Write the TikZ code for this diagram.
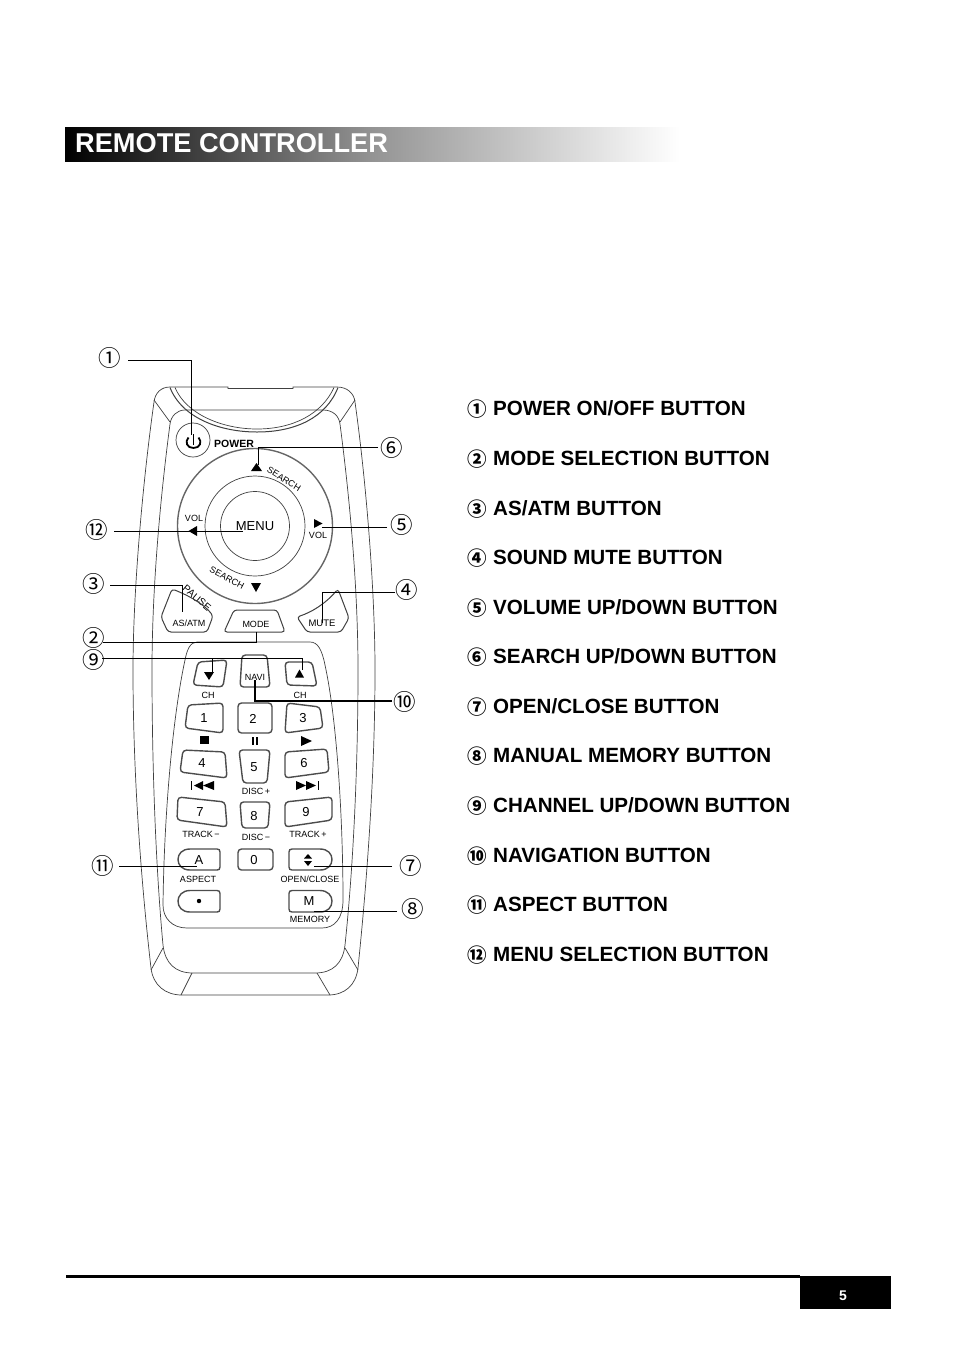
\documentclass[tikz,border=0pt]{standalone}
\usepackage{fontspec}
\setmainfont{Liberation Sans}
\newfontfamily\symf{Noto Sans CJK SC}
\tikzset{
  small/.style={font=\fontsize{9}{9}\selectfont,inner sep=0pt},
  keynum/.style={font=\fontsize{13}{13}\selectfont,inner sep=0pt},
  callout/.style={font=\symf\fontsize{22.5}{22.5}\selectfont,inner sep=0pt},
  lead/.style={line width=1pt,black},
  shell/.style={line width=0.7pt,black!75},
  keybox/.style={line width=1.4pt,black!70,rounded corners=3.5pt},
  listno/.style={font=\symf\bfseries\fontsize{19.5}{19.5}\selectfont,inner sep=0pt},
  listtext/.style={font=\bfseries\fontsize{20.6}{20.6}\selectfont,inner sep=0pt,anchor=base west},
  tri/.style={fill=black,draw=none},
}
\begin{document}
\begin{tikzpicture}[x=1pt,y=-1pt]
\useasboundingbox (0,0) rectangle (954,1355);
% heading band
\shade[left color=black,right color=white,middle color=black!42] (65,127) rectangle (680,161);
\node[anchor=base west,inner sep=0pt,text=white,font=\bfseries\fontsize{27.2}{27.2}\selectfont] (title) at (75,152.5) {REMOTE CONTROLLER};
% footer
\fill[black] (66,1275) rectangle (800,1277.5);
\fill[black] (800,1276) rectangle (891,1309);
\node[text=white,font=\bfseries\fontsize{14}{14}\selectfont,inner sep=0pt] (pg) at (843,1296) {5};
% remote shell
\draw[shell] (170,387) -- (228,387) -- (228,388.5) -- (293,388.5) -- (293,387) -- (337,387)
  .. controls (347,387) and (354,393) .. (355,402)
  .. controls (366,480) and (375,590) .. (375,670)
  .. controls (375,780) and (366,890) .. (358,968)
  .. controls (356,985) and (345,995) .. (328,995)
  -- (182,995)
  .. controls (165,995) and (153,985) .. (151,968)
  .. controls (142,890) and (133,780) .. (133,670)
  .. controls (133,590) and (143,480) .. (154,402)
  .. controls (155,393) and (161,387) .. (170,387) -- cycle;
\draw[shell] (185,410) -- (323,410)
  .. controls (333,410) and (339,416) .. (340,424)
  .. controls (350,500) and (358,590) .. (358,670)
  .. controls (358,770) and (353,870) .. (345,945)
  .. controls (343,963) and (333,973) .. (315,973)
  -- (193,973)
  .. controls (175,973) and (165,963) .. (163,945)
  .. controls (156,870) and (152,770) .. (152,670)
  .. controls (152,590) and (160,500) .. (170,424)
  .. controls (171,416) and (177,410) .. (185,410) -- cycle;
\draw[shell] (154,400) -- (170,422);
\draw[shell] (355,400) -- (340,422);
\draw[shell] (163,948) -- (151,970);
\draw[shell] (345,948) -- (358,970);
\draw[shell] (192,973) -- (181,995);
\draw[shell] (317,973) -- (330,995);
% recess
\draw[shell,line width=1pt] (170,387.5) .. controls (182,418) and (220,432) .. (257,432) .. controls (295,432) and (326,418) .. (338,387.5);
\draw[shell] (175,387.5) .. controls (186,414) and (222,429) .. (257,429) .. controls (293,429) and (322,414) .. (334,387.5);
% power
\draw[shell] (193,440) circle (17);
\draw[line width=1.8pt] (188.5,437.5) .. controls (184.5,442) and (187,448) .. (193.5,448) .. controls (200,448) and (202.5,442) .. (198.5,437.5);
\draw[line width=1.8pt] (193.5,434) -- (193.5,445);
\node[small,font=\bfseries\fontsize{10.5}{10.5}\selectfont] (powerlabel) at (234,444) {POWER};
% dial
\draw[line width=1.4pt,black!60] (255,526) circle (77.5);
\draw[shell] (255,526) circle (50);
\draw[shell] (255,526) circle (34.5);
\node[inner sep=0pt,font=\fontsize{13}{13}\selectfont] (menu) at (255,526) {MENU};
\fill[tri] (256.5,463) -- (251,471) -- (262,471) -- cycle;
\fill[tri] (256,592) -- (251,583) -- (261,583) -- cycle;
\fill[tri] (188.5,531) -- (197,526) -- (197,536) -- cycle;
\fill[tri] (322.5,523.5) -- (314,519) -- (314,528) -- cycle;
\node[small] (volL) at (194,518) {VOL};
\node[small] (volR) at (318,535) {VOL};
\node[small,rotate=-32] (sU) at (284,479) {SEARCH};
\node[small,rotate=-28] (sD) at (227,578) {SEARCH};
\node[small,font=\fontsize{10}{10}\selectfont,rotate=-40] (pause) at (197,598) {PAUSE};
% top buttons
\draw[shell,line width=1pt,rounded corners=3pt] (172,589) .. controls (190,596) and (205,605) .. (213,616) -- (207,632) -- (168,632) -- (161,617) -- cycle;
\draw[shell,line width=1pt,rounded corners=3pt] (234,610) -- (277,610) -- (285,632) -- (224,632) -- cycle;
\draw[shell,line width=1pt,rounded corners=3pt] (297,617) .. controls (312,612) and (325,604) .. (338,589) -- (349,618) -- (341,632) -- (307,632) -- cycle;
\node[small] (asatm) at (189,623) {AS/ATM};
\node[small] (mode) at (256,624) {MODE};
\node[small,font=\fontsize{9.5}{9.5}\selectfont] (mute) at (322,623) {MUTE};
% keypad panel
\draw[shell] (197,642) -- (310,642) .. controls (318,642) and (322,650) .. (325,665)
  .. controls (337,720) and (343,820) .. (343,900)
  .. controls (343,918) and (335,928) .. (322,928) -- (187,928)
  .. controls (172,928) and (163,918) .. (163,905)
  .. controls (164,820) and (172,720) .. (185,660)
  .. controls (187,650) and (190,642) .. (197,642) -- cycle;
% keys
\draw[keybox] (198,662) -- (227,660) -- (223,687) -- (193,685) -- cycle;
\draw[keybox] (242,655) -- (267,655) -- (270,687) -- (240,687) -- cycle;
\draw[keybox] (285,662) -- (312,662) -- (317,686) -- (287,685) -- cycle;
\draw[keybox] (188,705) -- (223,703) -- (223,733) -- (185,728) -- cycle;
\draw[keybox] (238,703) -- (272,703) -- (272,733) -- (238,733) -- cycle;
\draw[keybox] (287,703) -- (320,707) -- (323,728) -- (285,733) -- cycle;
\draw[keybox] (183,750) -- (225,752) -- (227,778) -- (180,772) -- cycle;
\draw[keybox] (239,750) -- (270,750) -- (267,783) -- (243,783) -- cycle;
\draw[keybox] (285,752) -- (327,749) -- (329,772) -- (285,778) -- cycle;
\draw[keybox] (178,797) -- (225,802) -- (227,827) -- (177,820) -- cycle;
\draw[keybox] (240,802) -- (270,802) -- (268,828) -- (242,828) -- cycle;
\draw[keybox] (285,802) -- (332,797) -- (332,820) -- (285,827) -- cycle;
\draw[keybox] (238,849) -- (273,849) -- (273,870) -- (238,870) -- cycle;
\draw[keybox,rounded corners=0pt] (190,849) -- (217,849) .. controls (219,849) and (220,850) .. (220,852) -- (220,867) .. controls (220,869) and (219,870) .. (217,870) -- (190,870) .. controls (182,870) and (178,865) .. (178,859.5) .. controls (178,854) and (182,849) .. (190,849) -- cycle;
\draw[keybox,rounded corners=0pt] (190,890.5) -- (217,890.5) .. controls (219,890.5) and (220,891.5) .. (220,893.5) -- (220,909) .. controls (220,911) and (219,912) .. (217,912) -- (190,912) .. controls (182,912) and (178,907) .. (178,901) .. controls (178,896) and (182,890.5) .. (190,890.5) -- cycle;
\draw[keybox,rounded corners=0pt] (320,849) -- (292,849) .. controls (290,849) and (289,850) .. (289,852) -- (289,867) .. controls (289,869) and (290,870) .. (292,870) -- (320,870) .. controls (328,870) and (332,865) .. (332,859.5) .. controls (332,854) and (328,849) .. (320,849) -- cycle;
\draw[keybox,rounded corners=0pt] (320,890.5) -- (292,890.5) .. controls (290,890.5) and (289,891.5) .. (289,893.5) -- (289,909) .. controls (289,911) and (290,912) .. (292,912) -- (320,912) .. controls (328,912) and (332,907) .. (332,901) .. controls (332,896) and (328,890.5) .. (320,890.5) -- cycle;
% key glyphs
\fill[tri] (209,680) -- (204,672) -- (214,672) -- cycle;
\fill[tri] (299.5,669.5) -- (295,677.5) -- (304,677.5) -- cycle;
\fill[tri] (200,736) rectangle (209,744);
\fill[tri] (252,737) rectangle (254,745);
\fill[tri] (256,737) rectangle (258,745);
\fill[tri] (301,736) -- (312,741) -- (301,746) -- cycle;
\fill[tri] (191,781) rectangle (192,790);
\fill[tri] (194,785.5) -- (203,781) -- (203,790) -- cycle;
\fill[tri] (203,785.5) -- (214,781) -- (214,790) -- cycle;
\fill[tri] (296,781) -- (306,785.5) -- (296,790) -- cycle;
\fill[tri] (306,781) -- (316,785.5) -- (306,790) -- cycle;
\fill[tri] (318,781) rectangle (319,790);
\fill[tri] (308,854) -- (304,858.5) -- (312,858.5) -- cycle;
\fill[tri] (308,866) -- (304,861) -- (312,861) -- cycle;
\fill[tri] (199,901) circle (2.2);
\node[small] (lch1) at (208,695) {CH};
\node[small] (lch2) at (300,695) {CH};
\node[small] (lnavi) at (255,677) {NAVI};
\node[keynum] (k1) at (204,718) {1};
\node[keynum] (k2) at (253,719) {2};
\node[keynum] (k3) at (303,718) {3};
\node[keynum] (k4) at (202,763) {4};
\node[keynum] (k5) at (254,767) {5};
\node[keynum] (k6) at (304,763) {6};
\node[keynum] (k7) at (200,812) {7};
\node[keynum] (k8) at (254,816) {8};
\node[keynum] (k9) at (306,812) {9};
\node[keynum] (k0) at (254,860) {0};
\node[keynum] (kA) at (199,860) {A};
\node[keynum] (kM) at (309,901) {M};
\node[small] (ld1) at (256,791) {DISC\,+};
\node[small] (ld2) at (256,837) {DISC\,−};
\node[small] (lt1) at (201,834) {TRACK\,−};
\node[small] (lt2) at (308,834) {TRACK\,+};
\node[small] (lasp) at (198,879) {ASPECT};
\node[small] (lopen) at (310,879) {OPEN/CLOSE};
\node[small] (lmem) at (310,919) {MEMORY};
% callouts
\node[callout] (c1) at (110,358) {①};
\node[callout] (c2) at (94,638) {②};
\node[callout] (c3) at (94,584) {③};
\node[callout] (c4) at (407,590) {④};
\node[callout] (c5) at (402,525) {⑤};
\node[callout] (c6) at (392,448) {⑥};
\node[callout] (c7) at (411,866) {⑦};
\node[callout] (c8) at (413,909) {⑧};
\node[callout] (c9) at (94,660) {⑨};
\node[callout] (c10) at (405,702) {⑩};
\node[callout] (c11) at (103,866) {⑪};
\node[callout] (c12) at (97,530) {⑫};
\coordinate (t1) at (191,435);
\coordinate (t2) at (256,632);
\coordinate (t3) at (182,612);
\coordinate (t4) at (322,623);
\coordinate (t5) at (322,527);
\coordinate (t6) at (258,465);
\coordinate (t7) at (314,866);
\coordinate (t8) at (314,911);
\coordinate (t9a) at (212,672);
\coordinate (t9b) at (302,670);
\coordinate (t10) at (255,680);
\coordinate (t11) at (197,866);
\coordinate (t12) at (243,531);
\coordinate (s1) at (128,360);
\coordinate (s2) at (103,642);
\coordinate (s3) at (110,585);
\coordinate (s4) at (395,592);
\coordinate (s5) at (387,527);
\coordinate (s6) at (378,447);
\coordinate (s7) at (392,866);
\coordinate (s8) at (397,911);
\coordinate (s9) at (102,658);
\coordinate (s10) at (392,701);
\coordinate (s11) at (119,866);
\coordinate (s12) at (114,531);
\draw[lead] (s1) -| (t1);
\draw[lead] (s2) -| (t2);
\draw[lead] (s3) -| (t3);
\draw[lead] (s4) -| (t4);
\draw[lead] (s5) -- (t5);
\draw[lead] (s6) -| (t6);
\draw[lead] (s7) -- (t7);
\draw[lead] (s8) -- (t8);
\draw[lead] (s9) -| (t9b);
\draw[lead] (t9a |- s9) -- (t9a);
\draw[lead,line width=1.4pt] (s10) -| (t10);
\draw[lead] (s11) -- (t11);
\draw[lead] (s12) -- (t12);
% list
\node[listno] (n1) at (477,409) {①};
\node[listno] (n2) at (477,459) {②};
\node[listno] (n3) at (477,509) {③};
\node[listno] (n4) at (477,558) {④};
\node[listno] (n5) at (477,608) {⑤};
\node[listno] (n6) at (477,657) {⑥};
\node[listno] (n7) at (477,707) {⑦};
\node[listno] (n8) at (477,756) {⑧};
\node[listno] (n9) at (477,806) {⑨};
\node[listno] (n10) at (477,856) {⑩};
\node[listno] (n11) at (477,905) {⑪};
\node[listno] (n12) at (477,955) {⑫};
\node[listtext] (x1) at (493,415) {POWER ON/OFF BUTTON};
\node[listtext] (x2) at (493,465) {MODE SELECTION BUTTON};
\node[listtext] (x3) at (493,515) {AS/ATM BUTTON};
\node[listtext] (x4) at (493,564) {SOUND MUTE BUTTON};
\node[listtext] (x5) at (493,614) {VOLUME UP/DOWN BUTTON};
\node[listtext] (x6) at (493,663) {SEARCH UP/DOWN BUTTON};
\node[listtext] (x7) at (493,713) {OPEN/CLOSE BUTTON};
\node[listtext] (x8) at (493,762) {MANUAL MEMORY BUTTON};
\node[listtext] (x9) at (493,812) {CHANNEL UP/DOWN BUTTON};
\node[listtext] (x10) at (493,862) {NAVIGATION BUTTON};
\node[listtext] (x11) at (493,911) {ASPECT BUTTON};
\node[listtext] (x12) at (493,961) {MENU SELECTION BUTTON};
\end{tikzpicture}
\end{document}
